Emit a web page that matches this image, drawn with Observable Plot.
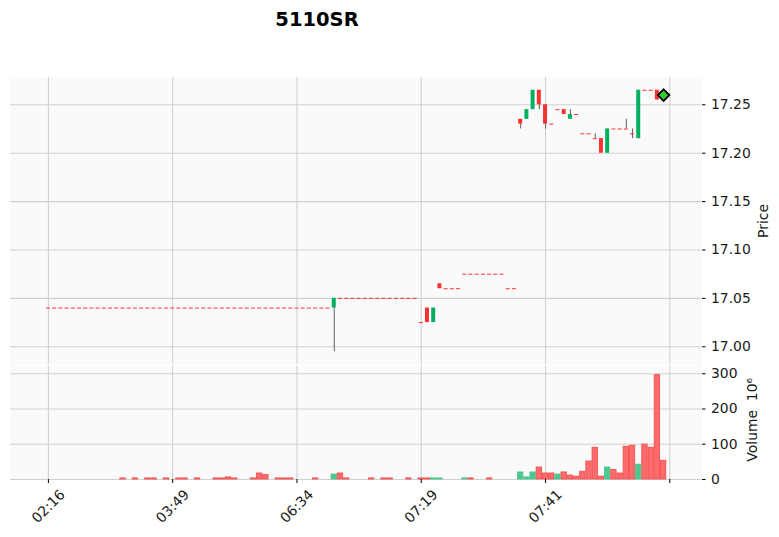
<!DOCTYPE html>
<html>
<head>
<meta charset="utf-8">
<script src="https://cdn.jsdelivr.net/npm/d3@7"></script>
<script src="https://cdn.jsdelivr.net/npm/@observablehq/plot@0.6"></script>
<style>
  html, body { margin: 0; padding: 0; background: #ffffff; }
  #wrap { position: relative; width: 779px; height: 537px; font-family: "DejaVu Sans", sans-serif; color: #000; }
  #title { position: absolute; left: 217px; width: 200px; top: 9.5px; line-height: 19.5px; text-align: center;
           font-weight: bold; font-size: 19.5px; font-family: "DejaVu Sans", sans-serif; }
  #price { position: absolute; left: 0; top: 70px; }
  #volume { position: absolute; left: 0; top: 365px; }
  svg { overflow: visible; }
</style>
</head>
<body>
<div id="wrap">
  <div id="title">5110SR</div>
  <div id="price"></div>
  <div id="volume"></div>
</div>
<script>
// ---- data ----
const title = "5110SR";
const tickIndex = [0, 20, 40, 60, 80, 100];
const tickLabels = ["02:16", "03:49", "06:34", "07:19", "07:41", ""];
const priceTicks = [17.00, 17.05, 17.10, 17.15, 17.20, 17.25];
const volumeTicks = [0, 100, 200, 300];

const opens = [
  17.04,17.04,17.04,17.04,17.04,17.04,17.04,17.04,17.04,17.04,
  17.04,17.04,17.04,17.04,17.04,17.04,17.04,17.04,17.04,17.04,
  17.04,17.04,17.04,17.04,17.04,17.04,17.04,17.04,17.04,17.04,
  17.04,17.04,17.04,17.04,17.04,17.04,17.04,17.04,17.04,17.04,
  17.04,17.04,17.04,17.04,17.04,17.04,17.04,17.05,17.05,17.05,
  17.05,17.05,17.05,17.05,17.05,17.05,17.05,17.05,17.05,17.05,
  17.025,17.04,17.025,17.065,17.06,17.06,17.06,17.075,17.075,17.075,
  17.075,17.075,17.075,17.075,17.06,17.06,17.235,17.235,17.245,17.265,
  17.25,17.23,17.245,17.245,17.235,17.24,17.22,17.22,17.215,17.215,
  17.20,17.225,17.225,17.225,17.22,17.215,17.265,17.265,17.265,17.255
];
const highs = [
  17.04,17.04,17.04,17.04,17.04,17.04,17.04,17.04,17.04,17.04,
  17.04,17.04,17.04,17.04,17.04,17.04,17.04,17.04,17.04,17.04,
  17.04,17.04,17.04,17.04,17.04,17.04,17.04,17.04,17.04,17.04,
  17.04,17.04,17.04,17.04,17.04,17.04,17.04,17.04,17.04,17.04,
  17.04,17.04,17.04,17.04,17.04,17.04,17.05,17.05,17.05,17.05,
  17.05,17.05,17.05,17.05,17.05,17.05,17.05,17.05,17.05,17.05,
  17.025,17.04,17.04,17.065,17.06,17.06,17.06,17.075,17.075,17.075,
  17.075,17.075,17.075,17.075,17.06,17.06,17.235,17.245,17.265,17.265,
  17.25,17.23,17.245,17.245,17.245,17.24,17.22,17.22,17.22,17.215,
  17.225,17.225,17.225,17.235,17.225,17.265,17.265,17.265,17.265,17.255
];
const lows = [
  17.04,17.04,17.04,17.04,17.04,17.04,17.04,17.04,17.04,17.04,
  17.04,17.04,17.04,17.04,17.04,17.04,17.04,17.04,17.04,17.04,
  17.04,17.04,17.04,17.04,17.04,17.04,17.04,17.04,17.04,17.04,
  17.04,17.04,17.04,17.04,17.04,17.04,17.04,17.04,17.04,17.04,
  17.04,17.04,17.04,17.04,17.04,17.04,16.995,17.05,17.05,17.05,
  17.05,17.05,17.05,17.05,17.05,17.05,17.05,17.05,17.05,17.05,
  17.025,17.025,17.025,17.06,17.06,17.06,17.06,17.075,17.075,17.075,
  17.075,17.075,17.075,17.075,17.06,17.06,17.225,17.235,17.245,17.245,
  17.225,17.23,17.245,17.24,17.235,17.24,17.22,17.22,17.215,17.20,
  17.20,17.225,17.225,17.225,17.215,17.215,17.265,17.265,17.255,17.255
];
const closes = [
  17.04,17.04,17.04,17.04,17.04,17.04,17.04,17.04,17.04,17.04,
  17.04,17.04,17.04,17.04,17.04,17.04,17.04,17.04,17.04,17.04,
  17.04,17.04,17.04,17.04,17.04,17.04,17.04,17.04,17.04,17.04,
  17.04,17.04,17.04,17.04,17.04,17.04,17.04,17.04,17.04,17.04,
  17.04,17.04,17.04,17.04,17.04,17.04,17.05,17.05,17.05,17.05,
  17.05,17.05,17.05,17.05,17.05,17.05,17.05,17.05,17.05,17.05,
  17.025,17.025,17.04,17.06,17.06,17.06,17.06,17.075,17.075,17.075,
  17.075,17.075,17.075,17.075,17.06,17.06,17.23,17.245,17.265,17.25,
  17.23,17.23,17.245,17.24,17.24,17.24,17.22,17.22,17.215,17.20,
  17.225,17.225,17.225,17.225,17.22,17.265,17.265,17.265,17.255,17.255
];
// volume in units of 10^6
const volumes = [
  0,0,0,0,0,0,0,0,0,0,
  0,0,3,0,3,0,3,3,0,3,
  0,3,3,0,3,0,0,3,3,6,
  3,0,0,3,17,13,0,3,3,3,
  0,0,0,3,0,0,14,17,3,0,
  0,0,3,0,3,3,0,0,3,0,
  3,3,3,3,0,0,0,3,3,0,
  0,3,0,0,0,0,20,6,20,34,
  17,17,14,20,11,8,22,51,90,8,
  34,27,17,93,96,42,99,90,296,53
];
const markerIndex = [99];
const markerPrice = [17.26];

// ---- styling ----
const UP = "#00b060", DOWN = "#fe3032", WICK = "#606060";
const VUP = "#4dc790", VDOWN = "#fd6b6c";
const BG = "#fafafa", GRID = "#d0d0d0";
const FONT = "DejaVu Sans, sans-serif";
const X_DOMAIN = [-6.1, 105.1];
const HALF_BODY = 0.32, HALF_VOL = 0.43;

const candles = opens.map((o, i) => ({ i, o, h: highs[i], l: lows[i], c: closes[i], v: volumes[i],
  vUp: i > 0 && closes[i] > closes[i - 1] }));
const ticks = tickIndex.map((i, k) => ({ i, label: tickLabels[k] }));
const markers = markerIndex.map((i, k) => ({ i, p: markerPrice[k] }));

const common = {
  width: 779, marginLeft: 10, marginRight: 78,
  x: { domain: X_DOMAIN, axis: null },
  style: { background: "transparent", fontFamily: FONT, fontSize: "13.9px", color: "#1a1a1a", overflow: "visible" }
};

const pricePlot = Plot.plot({
  ...common,
  height: 295, marginTop: 7, marginBottom: 1,
  y: { domain: [16.9817, 17.2782], axis: null },
  marks: [
    Plot.frame({ fill: BG, stroke: null }),
    Plot.gridX({ ticks: tickIndex, stroke: GRID, strokeOpacity: 1, strokeWidth: 1.1 }),
    Plot.gridY({ ticks: priceTicks, stroke: GRID, strokeOpacity: 1, strokeWidth: 1.1 }),
    Plot.axisY({ anchor: "right", ticks: priceTicks, tickFormat: d3.format(".2f"), tickSize: 3.5, tickPadding: 6,
      label: null, fontSize: 13.9, stroke: "#000" }),
    Plot.ruleX(candles.filter(d => d.h > d.l), { x: "i", y1: "l", y2: "h", stroke: WICK, strokeWidth: 1 }),
    Plot.rect(candles.filter(d => d.o !== d.c), {
      x1: d => d.i - HALF_BODY, x2: d => d.i + HALF_BODY, y1: "o", y2: "c",
      fill: d => d.c > d.o ? UP : DOWN
    }),
    Plot.ruleY(candles.filter(d => d.o === d.c), {
      y: "c", x1: d => d.i - HALF_BODY, x2: d => d.i + HALF_BODY, stroke: DOWN, strokeWidth: 1
    }),
    Plot.dot(markers, { x: "i", y: "p", symbol: "diamond2", r: 5.2, fill: "#32cd32", stroke: "#000", strokeWidth: 1.8 }),
    Plot.text(["Price"], { frameAnchor: "right", dx: 62, rotate: -90, text: d => d, fontSize: 13.9,
      textAnchor: "middle", lineAnchor: "middle", fill: "#1a1a1a" })
  ]
});

const volumePlot = Plot.plot({
  ...common,
  height: 172, marginTop: 0.5, marginBottom: 58,
  y: { domain: [0, 322], axis: null },
  marks: [
    Plot.frame({ fill: BG, stroke: null }),
    Plot.gridX({ ticks: tickIndex, stroke: GRID, strokeOpacity: 1, strokeWidth: 1.1 }),
    Plot.gridY({ ticks: volumeTicks, stroke: GRID, strokeOpacity: 1, strokeWidth: 1.1 }),
    Plot.rect(candles.filter(d => d.v > 0), {
      x1: d => d.i - HALF_VOL, x2: d => d.i + HALF_VOL, y1: 0, y2: "v",
      fill: d => d.vUp ? VUP : VDOWN, stroke: d => d.vUp ? VUP : "#f55050", strokeWidth: 0.9
    }),
    Plot.axisY({ anchor: "right", ticks: volumeTicks, tickFormat: d => String(d), tickSize: 3.5, tickPadding: 6,
      label: null, fontSize: 13.9, stroke: "#000" }),
    Plot.axisX({ anchor: "bottom", ticks: tickIndex, tickFormat: () => "", tickSize: 4, stroke: "#000", label: null }),
    Plot.text(ticks, { x: "i", text: "label", frameAnchor: "bottom", dy: 27, rotate: -45,
      textAnchor: "middle", lineAnchor: "middle", fontSize: 13.9, fill: "#1a1a1a" }),
    Plot.text(["Volume  10\u2076"], { frameAnchor: "right", dx: 51, dy: -3, rotate: -90, text: d => d,
      fontSize: 13.9, textAnchor: "middle", lineAnchor: "middle", fill: "#1a1a1a" })
  ]
});

document.getElementById("price").appendChild(pricePlot);
document.getElementById("volume").appendChild(volumePlot);
</script>
</body>
</html>
